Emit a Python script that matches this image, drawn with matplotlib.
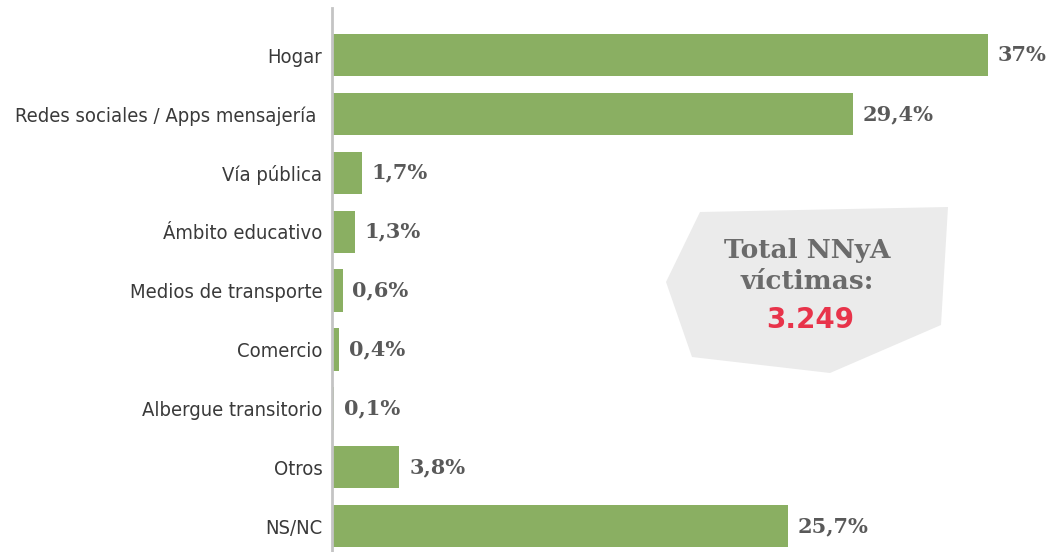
import matplotlib
matplotlib.use('Agg')
from matplotlib import pyplot as plt
from matplotlib.patches import Polygon


# Data
categories = ['Hogar', 'Redes sociales / Apps mensajería ', 'Vía pública', 'Ámbito educativo',
              'Medios de transporte', 'Comercio', 'Albergue transitorio', 'Otros', 'NS/NC']
values = [37, 29.4, 1.7, 1.3, 0.6, 0.4, 0.1, 3.8, 25.7]
value_labels = ['37%', '29,4%', '1,7%', '1,3%', '0,6%', '0,4%', '0,1%', '3,8%', '25,7%']

total_title = 'Total NNyA\nvíctimas:'
total_value = '3.249'

W, H = 1050, 552
fig = plt.figure(figsize=(W / 100, H / 100), dpi=100)
ax = fig.add_axes([332 / W, 0, 1 - 332 / W, 1 - 8 / H])

# Bars
pos = list(range(len(categories)))
ax.barh(pos, values, height=0.72, color='#8aaf62', zorder=2)
ax.set_xlim(0, (W - 332) / 17.73)
ax.set_ylim(8.44, -0.8)

for p, v, lab in zip(pos, values, value_labels):
    ax.text(v + 0.55, p, lab, va='center', ha='left', fontsize=15, fontweight='bold',
            family='DejaVu Serif', color='#595959')

ax.set_yticks(pos)
ax.set_yticklabels(categories, fontsize=14.5, color='#3a3a3a', family='DejaVu Sans',
                   fontstretch='condensed')
ax.tick_params(axis='y', length=0, pad=7)
ax.set_xticks([])

for s in ['top', 'right', 'bottom']:
    ax.spines[s].set_visible(False)
ax.spines['left'].set_color('#c4c4c4')
ax.spines['left'].set_linewidth(2)


# Callout box (figure pixel coordinates)
pts = [(700, 212), (948, 207), (941, 325), (830, 373), (692, 357), (666, 282)]
poly = Polygon([(x / W, 1 - y / H) for x, y in pts], closed=True, transform=fig.transFigure,
               facecolor='#ebebeb', edgecolor='none', zorder=3)
fig.patches.append(poly)
fig.text(807 / W, 1 - 266 / H, total_title, ha='center', va='center', fontsize=19,
         fontweight='bold', family='DejaVu Serif', color='#6b6b6b', linespacing=1.3)
fig.text(810 / W, 1 - 320 / H, total_value, ha='center', va='center', fontsize=20,
         fontweight='bold', family='DejaVu Sans', color='#e8334a')

plt.savefig('out.png', dpi=100)
